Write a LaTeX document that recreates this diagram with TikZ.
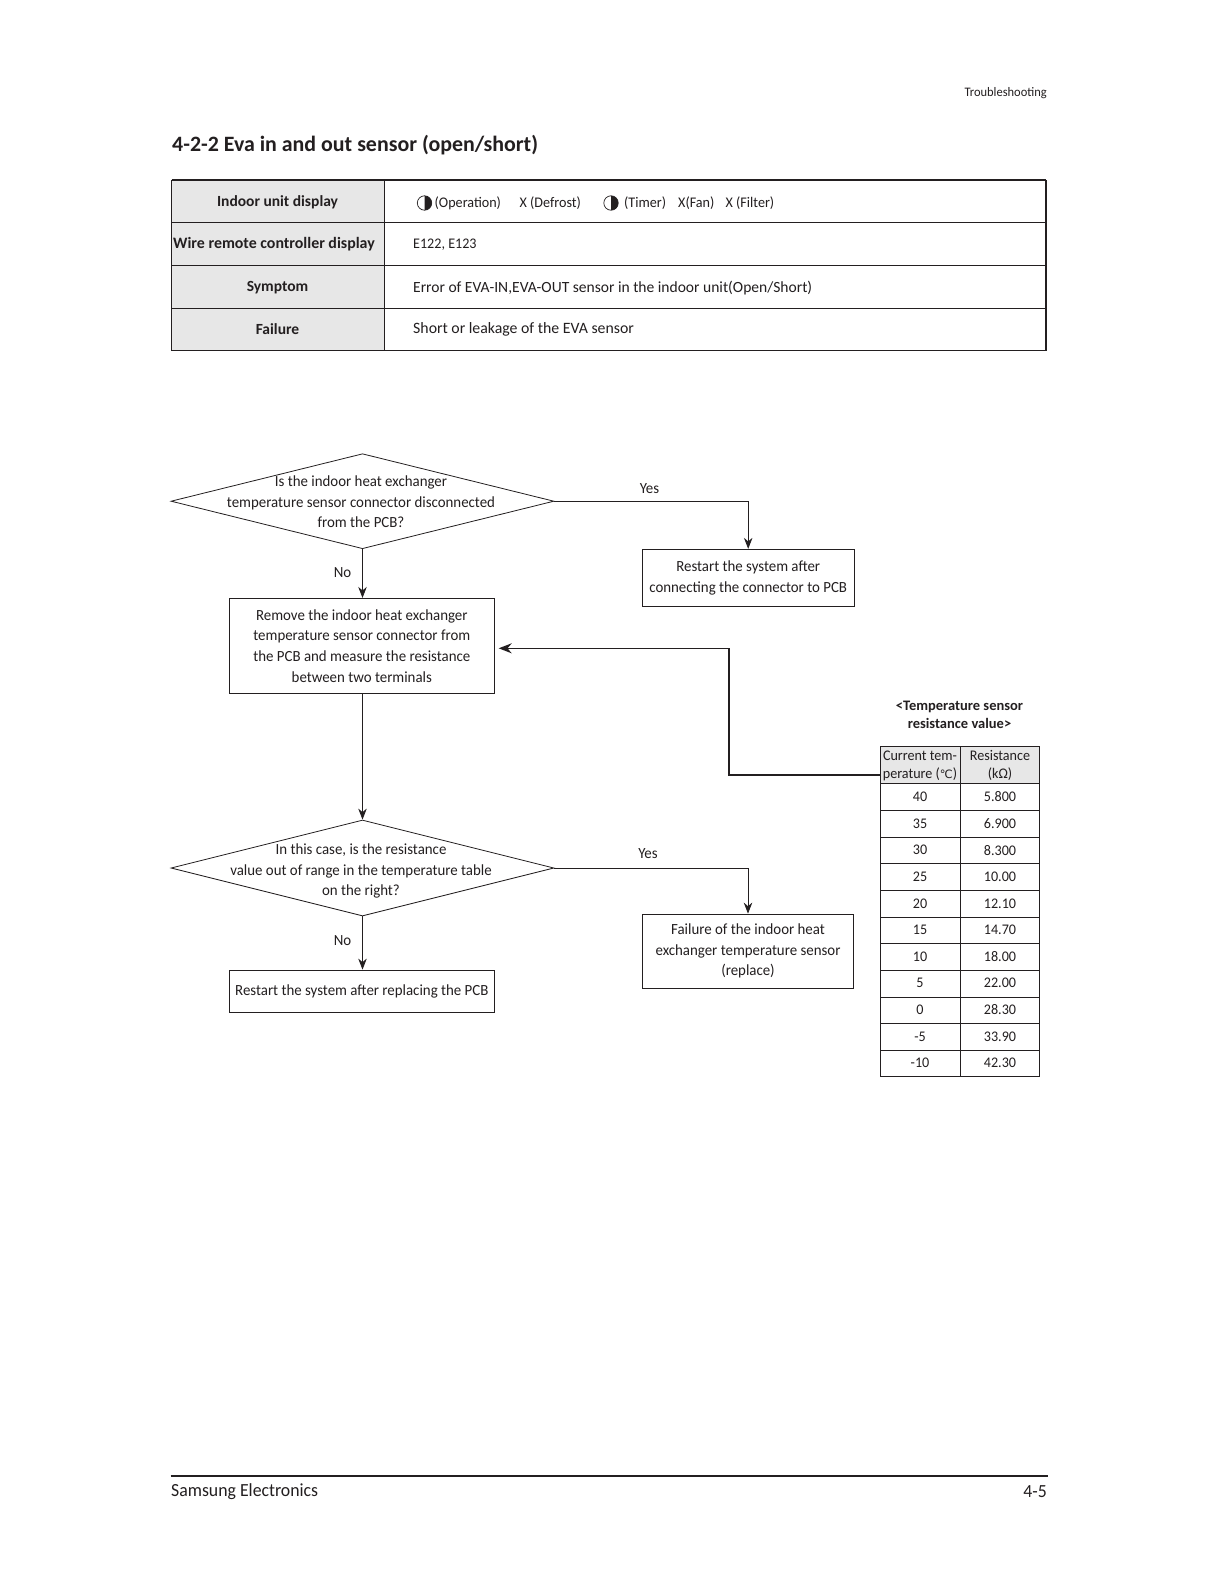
\documentclass[tikz,border=0pt]{standalone}
\usepackage{fontspec}
\setmainfont[FakeStretch=0.96]{Carlito}
\newfontfamily\widef{Carlito}
\newfontfamily\symf{DejaVu Sans}
\usetikzlibrary{shapes.geometric,arrows.meta}
\definecolor{ink}{HTML}{231F20}
\definecolor{cellgray}{HTML}{E7E7E7}
\tikzset{
  x=1pt,y=-1pt,
  txt/.style={text=ink,font=\fontsize{15.5}{20.6}\selectfont,align=center,inner sep=0pt},
  lft/.style={txt,anchor=west,align=left},
  smallrow/.style={lft,font=\fontsize{14.7}{20}\selectfont},
  widerow/.style={lft,font=\widef\fontsize{15.8}{20}\selectfont},
  hdr/.style={txt,font=\widef\fontsize{15.5}{20.5}\selectfont\bfseries},
  cell/.style={txt,font=\fontsize{14.7}{18}\selectfont},
  flowbox/.style={draw=ink,line width=0.8pt,rectangle,inner sep=0pt,txt},
  dia/.style={draw=ink,line width=0.8pt,diamond,aspect=4,inner sep=0pt,minimum width=383pt,minimum height=95pt},
  link/.style={draw=ink,line width=0.8pt,-{Stealth[length=11pt,width=8.5pt]}},
  thick link/.style={draw=ink,line width=1.5pt,-{Stealth[length=13pt,width=10pt]}},
  rule/.style={draw=ink,line width=0.8pt},
}
\begin{document}
\begin{tikzpicture}
\useasboundingbox[fill=white] (0,0) rectangle (1219,1582);
% header
\node[txt,anchor=east,font=\fontsize{13}{17}\selectfont] (head) at (1047,93) {Troubleshooting};
\node[txt,anchor=west,font=\widef\fontsize{21.9}{26}\selectfont\bfseries] (title) at (172,145) {4-2-2 Eva in and out sensor (open/short)};
% top table
\fill[cellgray] (171.5,180) rectangle (384.5,350.5);
\draw[rule] (171.5,180) rectangle (1046,350.5);
\draw[ink,line width=1.6pt] (171.5,180) -- (1046,180);
\draw[ink,line width=1.2pt] (1046,180) -- (1046,350.5);
\draw[rule] (384.5,180) -- (384.5,350.5);
\foreach \yy in {222.5,265.5,308}{\draw[rule] (171.5,\yy) -- (1046,\yy);}
\node[hdr] (h1) at (277.5,202) {Indoor unit display};
\node[hdr,font=\widef\fontsize{15.9}{20.5}\selectfont\bfseries] (h2) at (274,244.5) {Wire remote controller display};
\node[hdr] (h3) at (277.5,287.5) {Symptom};
\node[hdr] (h4) at (277.5,329.5) {Failure};
% half-filled icons
\foreach \cx in {424.5,611}{
  \draw[ink,line width=0.7pt] (\cx,203) circle (7.2pt);
  \fill[ink] (\cx,195.8) arc[start angle=90,end angle=-90,radius=7.2pt] -- cycle;
}
\node[smallrow] (v1a) at (434.5,203) {(Operation)};
\node[smallrow] (v1b) at (519.5,203) {X (Defrost)};
\node[smallrow] (v1c) at (624,203) {(Timer)};
\node[smallrow] (v1d) at (678,203) {X(Fan)};
\node[smallrow] (v1e) at (725.5,203) {X (Filter)};
\node[smallrow] (v2) at (413,245) {E122, E123};
\node[widerow,font=\widef\fontsize{15.55}{20}\selectfont] (v3) at (413,288) {Error of EVA-IN,EVA-OUT sensor in the indoor unit(Open/Short)};
\node[widerow] (v4) at (413,329.5) {Short or leakage of the EVA sensor};
% flowchart
\node[dia] (d1) at (362.5,501.2) {};
\node[txt] (d1t) at (361,502) {Is the indoor heat exchanger\\temperature sensor connector disconnected\\from the PCB?};
\node[flowbox,minimum width=265pt,minimum height=95pt] (b1) at (361.8,645.8) {Remove the indoor heat exchanger\\temperature sensor connector from\\the PCB and measure the resistance\\between two terminals};
\node[flowbox,minimum width=212pt,minimum height=57.5pt] (b2) at (748.2,578) {Restart the system after\\connecting the connector to PCB};
\node[dia,minimum height=96pt] (d2) at (362.5,868) {};
\node[txt] (d2t) at (361,871) {In this case, is the resistance\\value out of range in the temperature table\\on the right?};
\node[flowbox,minimum width=265pt,minimum height=42pt] (b3) at (361.8,991) {Restart the system after replacing the PCB};
\node[flowbox,minimum width=211.5pt,minimum height=74pt] (b4) at (748,951) {Failure of the indoor heat\\exchanger temperature sensor\\(replace)};
\node[txt] (yes1) at (649.5,488.5) {Yes};
\node[txt] (no1) at (342.5,572.5) {No};
\node[txt] (yes2) at (648,853.5) {Yes};
\node[txt] (no2) at (342.5,940.5) {No};
\draw[link] (d1.east) -| (b2.north);
\draw[link] (d1.south) -- (d1.south |- b1.north);
\draw[link] (b1.south) ++(0.7,0) coordinate (b1s) -- (b1s |- d2.north);
\draw[link] (d2.east) -| (b4.north);
\draw[link] (d2.south) -- (d2.south |- b3.north);
% temperature table
\node[txt,font=\widef\fontsize{14.5}{17.8}\selectfont\bfseries] (tt) at (959.5,715) {<Temperature sensor\\resistance value>};
\fill[cellgray] (880,746) rectangle (1039.5,783.5);
\draw[rule] (880,746) rectangle (1039.5,1076.5);
\draw[rule] (960,746) -- (960,1076.5);
\foreach \i in {0,...,10}{\pgfmathsetmacro{\yy}{783.5+26.7*\i}\draw[rule] (880,\yy) -- (1039.5,\yy);}
\node[cell] (c0a) at (920,765.5) {Current tem-\\perature ({\symf\fontsize{11.5}{18}\selectfont ℃})};
\node[cell] (c0b) at (1000,765.5) {Resistance\\(kΩ)};
\foreach \i/\t/\r in {0/40/5.800,1/35/6.900,2/30/8.300,3/25/10.00,4/20/12.10,5/15/14.70,6/10/18.00,7/5/22.00,8/0/28.30,9/-5/33.90,10/-10/42.30}{
  \pgfmathsetmacro{\yy}{797+26.6*\i}
  \node[cell] (t\i) at (920,\yy) {\t};
  \node[cell] (r\i) at (1000,\yy) {\r};
}
\coordinate (tblin) at (880,775);
\coordinate (bend) at (729,775);
\draw[thick link] (tblin) -- (bend) |- ([xshift=4pt,yshift=-2.5pt]b1.east);
% footer
\draw[ink,line width=1.4pt] (170.5,1476) -- (1047.5,1476);
\node[txt,anchor=west,font=\fontsize{18.5}{22}\selectfont] (f1) at (171,1492) {Samsung Electronics};
\node[txt,anchor=east,font=\fontsize{18.5}{22}\selectfont] (f2) at (1047,1492) {4-5};
\end{tikzpicture}
\end{document}
